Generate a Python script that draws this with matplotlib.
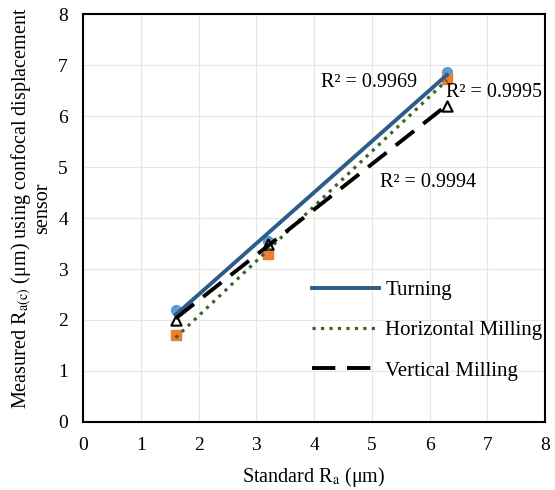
import numpy as np
import matplotlib
matplotlib.use('Agg')
import matplotlib.pyplot as plt

plt.rcParams['font.family'] = 'Liberation Serif'
plt.rcParams['mathtext.fontset'] = 'stix'

# standard Ra values and measured Ra(c) per process
std_ra = [1.6, 3.2, 6.3]
turning = [2.2, 3.55, 6.86]
horiz = [1.7, 3.3, 6.73]
vert = [2.0, 3.5, 6.2]
r2_labels = ['R² = 0.9969', 'R² = 0.9995', 'R² = 0.9994']

fig = plt.figure(figsize=(5.55, 4.9), dpi=100)
ax = fig.add_axes([0.15, 0.139, 0.832, 0.832])

x = np.array(std_ra)
xs = np.array([x.min(), x.max()])

# trendlines
for ys, col, ls, lw, name in [(turning, '#2B5C8A', '-', 2.8, 'Turning'),
                              (horiz, '#3E6327', ':', 2.3, 'Horizontal Milling'),
                              (vert, 'black', (0, (6, 3)), 2.8, 'Vertical Milling')]:
    k, b = np.polyfit(x, ys, 1)
    ax.plot(xs, k * xs + b, color=col, ls=ls, lw=lw, label=name, zorder=3)

ax.scatter(x, turning, s=50, color='#5B9BD5', marker='o', zorder=2)
ax.scatter(x, horiz, s=45, color='#ED7D31', marker='s', zorder=2)
ax.scatter(x, vert, s=55, facecolor='white', edgecolor='black', marker='^', lw=1.5, zorder=2)

ax.text(4.12, 6.66, r2_labels[0], fontsize=14.5, va='center')
ax.text(6.28, 6.46, r2_labels[1], fontsize=14.5, va='center')
ax.text(5.14, 4.70, r2_labels[2], fontsize=14.5, va='center')

ax.set_xlim(0, 8)
ax.set_ylim(0, 8)
ax.set_xticks(range(9))
ax.set_yticks(range(9))
ax.tick_params(labelsize=14, length=0, pad=11)
ax.grid(color='#E6E6E6', lw=0.8)
ax.set_axisbelow(True)
for s in ax.spines.values():
    s.set_linewidth(1.5)

ax.set_xlabel(r'Standard R$_\mathrm{a}$ (μm)', fontsize=14.5, labelpad=8)
ax.set_ylabel('Measured R$_\\mathrm{a(c)}$ (μm) using confocal displacement\nsensor',
              fontsize=14.5, linespacing=0.95)
ax.yaxis.set_label_coords(-0.068, 0.525)

ax.legend(loc='lower right', bbox_to_anchor=(1.035, 0.055), frameon=False, fontsize=15,
          handlelength=3.2, handletextpad=0.3, labelspacing=1.0)

fig.savefig('out.png', dpi=100)
